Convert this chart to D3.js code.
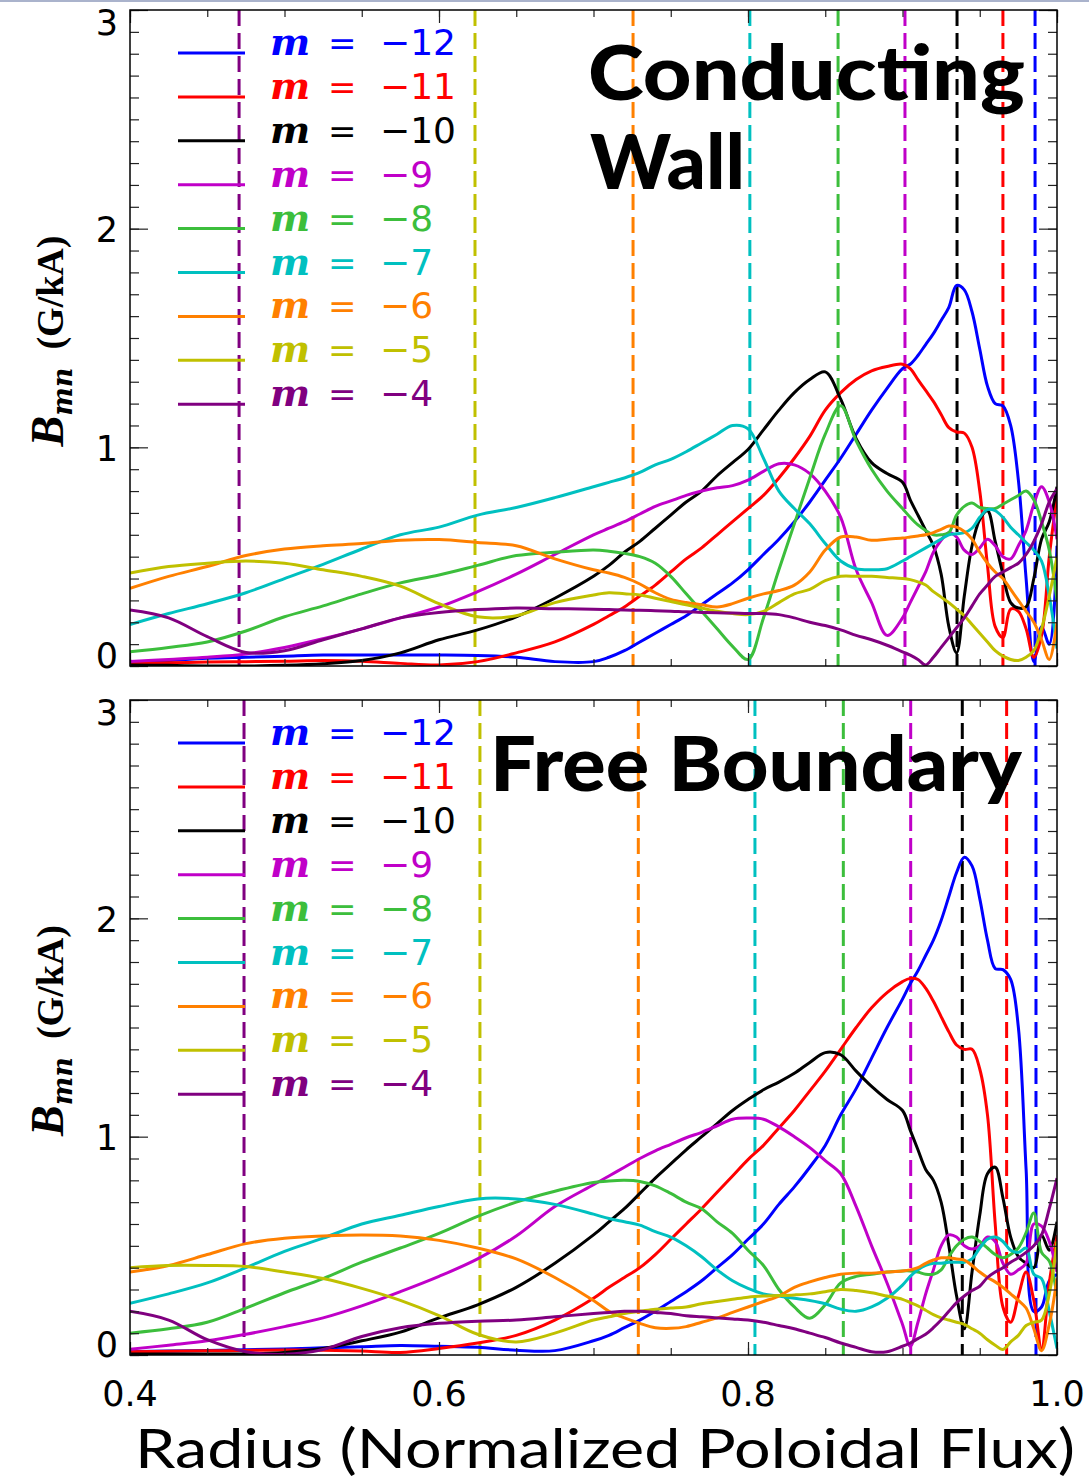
<!DOCTYPE html>
<html>
<head>
<meta charset="utf-8">
<script src="https://cdn.jsdelivr.net/npm/d3@7"></script>
<style>
  body { margin: 0; background: #fff; }
  svg { display: block; }
</style>
</head>
<body>
<svg id="chart" width="1089" height="1481"></svg>
<script>
// Normalized poloidal-flux radius grid shared by every B_mn profile
const radius = [
  0.40,0.425,0.45,0.475,0.50,0.525,0.55,0.575,0.60,0.625,0.65,0.675,0.70,
  0.71,0.72,0.73,0.74,0.75,0.76,0.77,0.78,0.79,0.80,0.81,0.82,0.83,0.84,0.85,0.86,0.87,0.88,0.89,0.90,
  0.905,0.91,0.915,0.92,0.925,0.93,0.935,0.94,0.945,0.95,0.955,0.96,0.965,0.97,0.975,0.98,0.985,0.99,0.995,1.00
];

// Poloidal mode numbers and their colours
const modes = [-12, -11, -10, -9, -8, -7, -6, -5, -4];
const modeColors = ['#0000ff', '#ff0000', '#000000', '#c000c8', '#3cbe3c', '#00c0c0', '#ff8000', '#c0c000', '#800080'];

// Rational-surface locations (q = m/n) for each mode
const wallRational = [0.9858, 0.965, 0.9353, 0.9016, 0.8583, 0.8012, 0.7256, 0.6233, 0.4706];
const freeRational = [0.9864, 0.9674, 0.9387, 0.9053, 0.8617, 0.8045, 0.729, 0.6265, 0.4738];

// B_mn (G/kA), conducting wall case
const wallM12 = [0.015,0.025,0.035,0.04,0.045,0.05,0.05,0.05,0.05,0.048,0.04,0.02,0.02,
  0.04,0.07,0.11,0.15,0.19,0.23,0.28,0.33,0.38,0.44,0.51,0.58,0.66,0.75,0.85,0.95,1.06,1.17,1.27,1.36,
  1.38,1.42,1.47,1.52,1.58,1.64,1.74,1.72,1.62,1.45,1.28,1.20,1.19,1.10,0.85,0.40,0.02,0.18,0.10,0.55];
const wallM11 = [0.013,0.015,0.018,0.02,0.022,0.025,0.022,0.012,0.005,0.02,0.06,0.11,0.19,
  0.23,0.27,0.32,0.37,0.43,0.49,0.54,0.60,0.66,0.72,0.78,0.86,0.95,1.05,1.17,1.25,1.31,1.35,1.37,1.38,
  1.36,1.31,1.26,1.21,1.15,1.09,1.07,1.065,1.00,0.80,0.46,0.18,0.13,0.26,0.25,0.17,0.04,0.14,0.50,0.78];
const wallM10 = [0.005,0.003,0.0,0.0,0.003,0.01,0.025,0.06,0.12,0.165,0.225,0.31,0.41,
  0.46,0.52,0.57,0.63,0.69,0.75,0.80,0.87,0.93,0.99,1.08,1.17,1.25,1.31,1.345,1.22,1.04,0.93,0.88,0.84,
  0.76,0.69,0.62,0.55,0.42,0.18,0.06,0.32,0.55,0.67,0.71,0.57,0.42,0.29,0.265,0.27,0.40,0.58,0.66,0.82];
const wallM9 = [0.02,0.03,0.04,0.055,0.085,0.125,0.17,0.22,0.27,0.34,0.42,0.51,0.60,
  0.63,0.66,0.695,0.73,0.755,0.78,0.80,0.815,0.825,0.85,0.89,0.925,0.92,0.88,0.80,0.68,0.44,0.29,0.14,0.22,
  0.29,0.36,0.43,0.52,0.575,0.61,0.59,0.53,0.51,0.54,0.58,0.55,0.50,0.49,0.55,0.62,0.74,0.82,0.75,0.58];
const wallM8 = [0.065,0.085,0.11,0.16,0.225,0.275,0.33,0.38,0.416,0.46,0.505,0.52,0.53,
  0.525,0.515,0.50,0.47,0.41,0.33,0.25,0.17,0.09,0.03,0.22,0.44,0.65,0.86,1.06,1.19,1.03,0.90,0.80,0.72,
  0.68,0.645,0.62,0.60,0.60,0.61,0.69,0.73,0.745,0.725,0.72,0.72,0.74,0.76,0.78,0.80,0.76,0.66,0.53,0.30];
const wallM7 = [0.19,0.24,0.285,0.335,0.40,0.465,0.535,0.60,0.635,0.69,0.725,0.77,0.82,
  0.84,0.86,0.885,0.92,0.945,0.98,1.02,1.06,1.10,1.085,0.95,0.80,0.72,0.65,0.56,0.48,0.445,0.44,0.445,0.48,
  0.50,0.52,0.54,0.56,0.58,0.60,0.605,0.61,0.63,0.68,0.715,0.71,0.68,0.635,0.60,0.565,0.53,0.48,0.32,0.08];
const wallM6 = [0.355,0.41,0.455,0.505,0.535,0.55,0.56,0.575,0.578,0.565,0.55,0.49,0.44,
  0.425,0.405,0.375,0.335,0.305,0.29,0.28,0.27,0.285,0.31,0.33,0.345,0.37,0.43,0.53,0.59,0.59,0.575,0.58,0.585,
  0.59,0.595,0.60,0.61,0.625,0.64,0.635,0.615,0.58,0.52,0.47,0.43,0.40,0.35,0.30,0.25,0.20,0.12,0.03,0.20];
const wallM5 = [0.425,0.455,0.47,0.48,0.47,0.44,0.41,0.365,0.285,0.225,0.23,0.29,0.325,
  0.335,0.33,0.325,0.31,0.295,0.28,0.265,0.25,0.24,0.235,0.25,0.29,0.33,0.35,0.39,0.41,0.41,0.41,0.405,0.40,
  0.395,0.385,0.37,0.34,0.315,0.29,0.26,0.23,0.19,0.15,0.11,0.07,0.045,0.03,0.025,0.04,0.07,0.17,0.32,0.50];
const wallM4 = [0.256,0.22,0.134,0.062,0.07,0.12,0.17,0.22,0.245,0.258,0.265,0.262,0.26,
  0.258,0.256,0.255,0.253,0.25,0.248,0.245,0.243,0.242,0.24,0.24,0.235,0.22,0.20,0.185,0.165,0.14,0.12,0.095,0.065,
  0.05,0.03,0.005,0.04,0.085,0.13,0.175,0.22,0.275,0.33,0.37,0.41,0.43,0.45,0.47,0.51,0.57,0.65,0.75,0.81];

// B_mn (G/kA), free boundary case
const freeM12 = [0.015,0.018,0.021,0.024,0.028,0.033,0.038,0.044,0.04,0.035,0.022,0.02,0.065,
  0.09,0.125,0.16,0.20,0.245,0.29,0.34,0.40,0.46,0.53,0.60,0.69,0.77,0.86,0.96,1.10,1.22,1.36,1.50,1.63,
  1.70,1.76,1.83,1.90,1.99,2.10,2.21,2.28,2.24,2.09,1.90,1.77,1.765,1.72,1.50,0.85,0.20,0.22,0.34,0.37];
const freeM11 = [0.015,0.017,0.019,0.021,0.023,0.022,0.018,0.012,0.03,0.055,0.09,0.16,0.26,
  0.31,0.355,0.40,0.46,0.53,0.60,0.67,0.745,0.82,0.895,0.96,1.04,1.12,1.21,1.30,1.40,1.50,1.59,1.66,1.71,
  1.725,1.72,1.68,1.62,1.55,1.48,1.42,1.40,1.40,1.31,1.10,0.60,0.22,0.15,0.27,0.38,0.25,0.03,0.33,0.55];
const freeM10 = [0.005,0.005,0.005,0.005,0.012,0.03,0.065,0.105,0.17,0.23,0.31,0.42,0.55,
  0.61,0.67,0.74,0.81,0.875,0.94,1.00,1.06,1.12,1.17,1.215,1.25,1.29,1.34,1.385,1.375,1.30,1.23,1.17,1.12,
  1.03,0.94,0.85,0.80,0.70,0.50,0.27,0.12,0.38,0.64,0.83,0.86,0.72,0.54,0.45,0.42,0.40,0.55,0.48,0.61];
const freeM9 = [0.026,0.045,0.065,0.095,0.13,0.17,0.225,0.29,0.36,0.44,0.545,0.68,0.78,
  0.82,0.86,0.90,0.935,0.965,0.995,1.02,1.05,1.08,1.085,1.08,1.045,1.00,0.95,0.89,0.83,0.68,0.50,0.33,0.14,
  0.04,0.15,0.28,0.39,0.50,0.55,0.54,0.50,0.485,0.50,0.54,0.52,0.42,0.37,0.39,0.42,0.60,0.59,0.52,0.38];
const freeM8 = [0.10,0.12,0.15,0.215,0.285,0.35,0.425,0.49,0.557,0.635,0.70,0.75,0.79,
  0.797,0.80,0.795,0.775,0.74,0.70,0.67,0.61,0.557,0.48,0.41,0.30,0.22,0.168,0.23,0.33,0.36,0.37,0.38,0.385,
  0.385,0.38,0.37,0.37,0.39,0.45,0.50,0.53,0.54,0.52,0.49,0.46,0.445,0.46,0.49,0.56,0.65,0.47,0.43,0.27];
const freeM7 = [0.237,0.28,0.33,0.40,0.475,0.535,0.60,0.64,0.68,0.715,0.715,0.69,0.645,
  0.625,0.61,0.595,0.565,0.54,0.50,0.45,0.39,0.34,0.305,0.28,0.27,0.26,0.25,0.235,0.21,0.20,0.22,0.26,0.32,
  0.36,0.39,0.41,0.42,0.42,0.425,0.425,0.425,0.44,0.49,0.53,0.54,0.52,0.48,0.47,0.49,0.37,0.35,0.20,0.03];
const freeM6 = [0.38,0.41,0.46,0.51,0.535,0.545,0.55,0.545,0.525,0.49,0.44,0.355,0.25,
  0.20,0.17,0.145,0.125,0.122,0.13,0.15,0.17,0.195,0.22,0.245,0.27,0.31,0.335,0.355,0.37,0.375,0.375,0.38,0.385,
  0.39,0.40,0.42,0.435,0.445,0.445,0.44,0.435,0.41,0.38,0.355,0.335,0.31,0.28,0.25,0.215,0.12,0.02,0.14,0.35];
const freeM5 = [0.40,0.41,0.41,0.405,0.38,0.35,0.305,0.25,0.18,0.095,0.06,0.10,0.16,
  0.175,0.19,0.20,0.21,0.215,0.22,0.235,0.245,0.255,0.265,0.27,0.272,0.275,0.28,0.29,0.30,0.295,0.285,0.27,0.255,
  0.24,0.225,0.205,0.185,0.17,0.16,0.15,0.14,0.12,0.10,0.07,0.045,0.025,0.06,0.09,0.135,0.15,0.16,0.28,0.52];
const freeM4 = [0.20,0.16,0.07,0.015,0.003,0.025,0.085,0.125,0.145,0.155,0.16,0.175,0.19,
  0.195,0.20,0.20,0.195,0.19,0.18,0.175,0.17,0.165,0.16,0.15,0.135,0.12,0.10,0.08,0.055,0.035,0.015,0.015,0.04,
  0.055,0.075,0.095,0.125,0.16,0.20,0.24,0.27,0.295,0.315,0.355,0.38,0.40,0.425,0.445,0.47,0.50,0.55,0.67,0.81];

const wallSeries = [wallM12, wallM11, wallM10, wallM9, wallM8, wallM7, wallM6, wallM5, wallM4];
const freeSeries = [freeM12, freeM11, freeM10, freeM9, freeM8, freeM7, freeM6, freeM5, freeM4];

// Axis ticks and labels
const xMajorTicks = [0.4, 0.6, 0.8, 1.0];
const xTickLabels = ['0.4', '0.6', '0.8', '1.0'];
const yMajorTicks = [0, 1, 2, 3];
const yTickLabels = ['0', '1', '2', '3'];
const xLabel = 'Radius (Normalized Poloidal Flux)';

// ---------------------------------------------------------------- drawing
const svg = d3.select('#chart');
const W = 1089, H = 1481;
svg.append('rect').attr('width', W).attr('height', H).attr('fill', '#fff');
svg.append('rect').attr('x', 0).attr('y', 0).attr('width', W).attr('height', 2).attr('fill', '#aab3cc');

const plotLeft = 130, plotRight = 1057;
const numFont = '"DejaVu Sans", sans-serif';
const lineWidth = 3;

const panels = [
  { top: 10, bottom: 666, series: wallSeries, rational: wallRational,
    title: [{ text: 'Conducting', x: 588, y: 100, len: 437 }, { text: 'Wall', x: 590, y: 189, len: 155 }] },
  { top: 700, bottom: 1355, series: freeSeries, rational: freeRational,
    title: [{ text: 'Free Boundary', x: 490, y: 791, len: 532 }] }
];

const x = d3.scaleLinear().domain([0.4, 1.0]).range([plotLeft, plotRight]);
const xMinor = d3.range(0, 13).map(i => 0.4 + i * 0.05);
const yMinor = d3.range(0, 31).map(i => i / 10);

panels.forEach((p, pi) => {
  const y = d3.scaleLinear().domain([0, 3]).range([p.bottom, p.top]);
  const g = svg.append('g');
  const clipId = 'plot-clip-' + pi;
  svg.append('clipPath').attr('id', clipId)
    .append('rect').attr('x', plotLeft).attr('y', p.top)
    .attr('width', plotRight - plotLeft).attr('height', p.bottom - p.top);

  // rational surfaces
  g.append('g').selectAll('line').data(p.rational).join('line')
    .attr('x1', d => x(d)).attr('x2', d => x(d))
    .attr('y1', p.top).attr('y2', p.bottom)
    .attr('stroke', (d, j) => modeColors[j])
    .attr('stroke-width', 3)
    .attr('stroke-dasharray', '16,7');

  // mode amplitude profiles
  const line = d3.line()
    .x((d, k) => x(radius[k]))
    .y(d => y(d))
    .curve(d3.curveCatmullRom.alpha(0.5));
  g.append('g').attr('clip-path', `url(#${clipId})`)
    .selectAll('path').data(p.series).join('path')
    .attr('d', line)
    .attr('fill', 'none')
    .attr('stroke', (d, j) => modeColors[j])
    .attr('stroke-width', lineWidth)
    .attr('stroke-linejoin', 'round');

  // inward tick marks on all four sides
  const tickStyle = s => {
    s.select('.domain').remove();
    s.selectAll('line').attr('stroke', '#222').attr('stroke-width', 1.2);
  };
  const addTicks = (axis, transform) =>
    g.append('g').attr('transform', transform).call(axis.tickFormat('')).call(tickStyle);
  addTicks(d3.axisLeft(y).tickValues(yMinor).tickSize(-9), `translate(${plotLeft},0)`);
  addTicks(d3.axisLeft(y).tickValues(yMajorTicks).tickSize(-18), `translate(${plotLeft},0)`);
  addTicks(d3.axisRight(y).tickValues(yMinor).tickSize(-9), `translate(${plotRight},0)`);
  addTicks(d3.axisRight(y).tickValues(yMajorTicks).tickSize(-18), `translate(${plotRight},0)`);
  addTicks(d3.axisTop(x).tickValues(xMinor).tickSize(-7), `translate(0,${p.top})`);
  addTicks(d3.axisTop(x).tickValues(xMajorTicks).tickSize(-13), `translate(0,${p.top})`);
  addTicks(d3.axisBottom(x).tickValues(xMinor).tickSize(-7), `translate(0,${p.bottom})`);
  addTicks(d3.axisBottom(x).tickValues(xMajorTicks).tickSize(-13), `translate(0,${p.bottom})`);

  // frame
  g.append('rect').attr('x', plotLeft).attr('y', p.top)
    .attr('width', plotRight - plotLeft).attr('height', p.bottom - p.top)
    .attr('fill', 'none').attr('stroke', '#000').attr('stroke-width', 1.5);

  // y tick labels
  g.append('g').selectAll('text').data(yMajorTicks).join('text')
    .attr('x', 118)
    .attr('y', d => Math.min(Math.max(y(d) + 1, p.top + 12), p.bottom - 11))
    .attr('dy', '0.36em')
    .attr('text-anchor', 'end')
    .style('font-family', numFont).style('font-size', '35px')
    .text((d, k) => yTickLabels[k]);

  // y axis title: B_mn (G/kA)
  const yt = g.append('text')
    .attr('transform', `translate(63,${(p.top + p.bottom) / 2 + 3}) rotate(-90)`)
    .attr('text-anchor', 'middle');
  yt.append('tspan').text('B')
    .style('font-family', '"Liberation Serif", serif').style('font-weight', 'bold')
    .style('font-style', 'italic').style('font-size', '46px');
  yt.append('tspan').text('mn').attr('dy', 9)
    .style('font-family', '"DejaVu Serif", serif').style('font-weight', 'bold')
    .style('font-style', 'italic').style('font-size', '27px');
  yt.append('tspan').text('(G/kA)').attr('dy', -9).attr('dx', 18)
    .style('font-family', '"Liberation Serif", serif').style('font-weight', 'bold')
    .style('font-size', '38px');

  // legend
  const legY0 = p.top + 43, legStep = 43.9;
  const leg = g.append('g');
  modes.forEach((m, j) => {
    const ly = legY0 + j * legStep;
    leg.append('line').attr('x1', 178).attr('x2', 245).attr('y1', ly).attr('y2', ly)
      .attr('stroke', modeColors[j]).attr('stroke-width', lineWidth);
    leg.append('text').attr('x', 270).attr('y', ly + 2).text('m')
      .attr('fill', modeColors[j])
      .style('font-family', '"DejaVu Serif", serif').style('font-weight', 'bold')
      .style('font-style', 'italic').style('font-size', '38px');
    leg.append('text').attr('x', 328).attr('y', ly + 2).text('=')
      .attr('fill', modeColors[j])
      .style('font-family', numFont).style('font-size', '34px');
    leg.append('text').attr('x', 380).attr('y', ly + 2).text('\u2212' + Math.abs(m))
      .attr('fill', modeColors[j])
      .style('font-family', numFont).style('font-size', '36px');
  });

  // panel title
  p.title.forEach(t => {
    g.append('text').attr('x', t.x).attr('y', t.y).text(t.text)
      .attr('textLength', t.len).attr('lengthAdjust', 'spacingAndGlyphs')
      .style('font-family', 'Lato, "DejaVu Sans", sans-serif')
      .style('font-weight', '900').style('font-size', '76px');
  });
});

// x tick labels and title under the lower panel
svg.append('g').selectAll('text').data(xMajorTicks).join('text')
  .attr('x', d => x(d)).attr('y', 1406)
  .attr('text-anchor', 'middle')
  .style('font-family', numFont).style('font-size', '35px')
  .text((d, k) => xTickLabels[k]);

svg.append('text').attr('x', 135).attr('y', 1468).text(xLabel)
  .attr('textLength', 940).attr('lengthAdjust', 'spacingAndGlyphs')
  .style('font-family', 'Lato, "DejaVu Sans", sans-serif').style('font-size', '54px');
</script>
</body>
</html>
